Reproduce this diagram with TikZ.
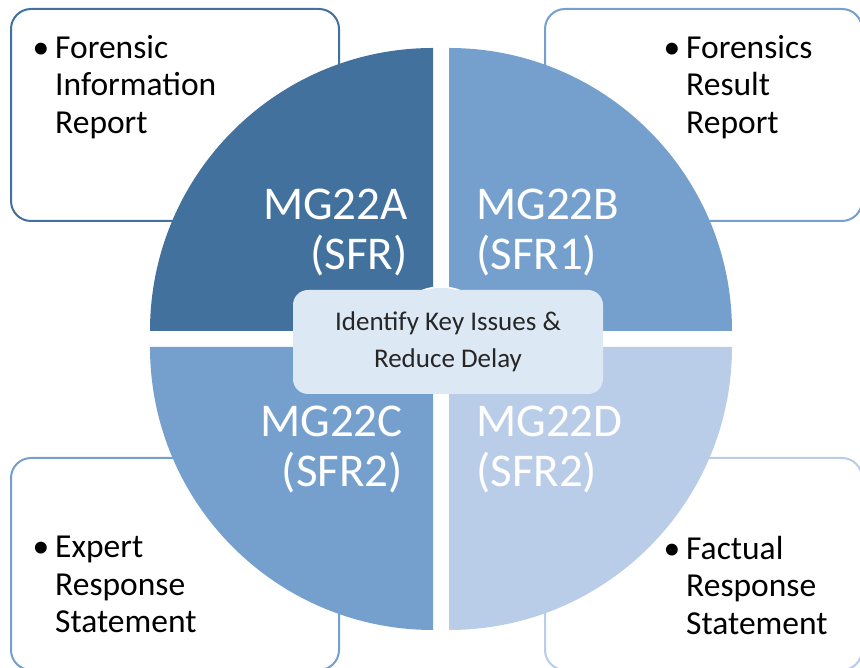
\documentclass[tikz,border=0pt]{standalone}
\usepackage{fontspec}
\setmainfont{Carlito}
\definecolor{mgdark}{HTML}{41719C}
\definecolor{mgmid}{HTML}{75A0CE}
\definecolor{mglight}{HTML}{B9CDE8}
\definecolor{hubfill}{HTML}{DDE8F5}
\tikzset{note/.style={draw,fill=white,rounded corners=20pt,line width=2pt,minimum width=328pt,minimum height=212pt}}
\tikzset{sector/.style={text=white,inner sep=0pt,font=\fontsize{47}{50}\selectfont}}
\tikzset{bul/.style={align=left,inner sep=0pt,anchor=north west,font=\fontsize{33.5}{37.5}\selectfont}}
\newcommand{\bl}{\makebox[0pt][r]{\textbullet\hspace{6pt}}}

\begin{document}
\begin{tikzpicture}[x=1pt,y=1pt]
\useasboundingbox (0,0) rectangle (860,668);
\clip (0,0) rectangle (860,668);
% boxes behind the circle
\node[note,draw=mgdark] (finfo) at (175,553) {};
\node[note,draw=mgmid,minimum width=317pt] (fres) at (703.5,553) {};
\node[note,draw=mgmid] (expert) at (175,104) {};
\node[note,draw=mglight,minimum width=317pt] (fact) at (703.5,104) {};
% four quarters
\fill[mgdark] (433,337) -- ++(0,283) arc[start angle=90,end angle=180,radius=283] -- cycle;
\fill[mgmid] (449,337) -- ++(283,0) arc[start angle=0,end angle=90,radius=283] -- cycle;
\fill[mgmid] (433,321) -- ++(-283,0) arc[start angle=180,end angle=270,radius=283] -- cycle;
\fill[mglight] (449,321) -- ++(0,-283) arc[start angle=270,end angle=360,radius=283] -- cycle;
\node[sector,align=right,anchor=east] (mga) at (408,435) {MG22A\\(SFR)};
\node[sector,align=left,anchor=west] (mgb) at (476,435) {MG22B\\(SFR1)};
\node[sector,align=right,anchor=east] (mgc) at (403,218) {MG22C\\(SFR2)};
\node[sector,align=left,anchor=west] (mgd) at (476,218) {MG22D\\(SFR2)};
% centre
\fill[hubfill,draw=white,line width=1.5pt] (441,329) circle[radius=52];
\node[fill=hubfill,rounded corners=15pt,minimum width=310pt,minimum height=104pt,align=center,
      text=black!85,font=\fontsize{27}{37}\selectfont] (hub) at (448,326) {Identify Key Issues \&\\Reduce Delay};
% bullet texts
\node[bul] (tinfo) at (55,633) {\bl Forensic\\Information\\Report};
\node[bul] (tres) at (686,633) {\bl Forensics\\Result\\Report};
\node[bul] (texp) at (55,132) {\bl Expert\\Response\\Statement};
\node[bul] (tfact) at (686,132) {\bl Factual\\Response\\Statement};
\end{tikzpicture}
\end{document}
